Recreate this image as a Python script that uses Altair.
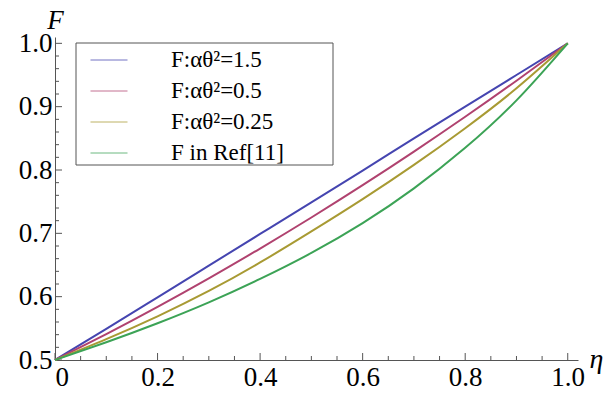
import altair as alt
import pandas as pd

eta = [0.0, 0.1, 0.2, 0.3, 0.4, 0.5, 0.6, 0.7, 0.8, 0.9, 1.0]
f_15 = [0.5, 0.549, 0.599, 0.649, 0.699, 0.749, 0.799, 0.850, 0.900, 0.950, 1.0]
f_05 = [0.5, 0.541, 0.584, 0.629, 0.676, 0.725, 0.776, 0.829, 0.884, 0.941, 1.0]
f_025 = [0.5, 0.533, 0.569, 0.609, 0.654, 0.703, 0.754, 0.808, 0.866, 0.929, 1.0]
f_ref = [0.5, 0.528, 0.558, 0.591, 0.628, 0.669, 0.716, 0.771, 0.835, 0.910, 1.0]

series = ["F:αθ²=1.5", "F:αθ²=0.5", "F:αθ²=0.25", "F in Ref[11]"]
colors = ["#4545b0", "#b0426f", "#a89a33", "#3ca356"]

y_major = [0.5, 0.6, 0.7, 0.8, 0.9, 1.0]
y_minor = [0.52, 0.54, 0.56, 0.58, 0.62, 0.64, 0.66, 0.68, 0.72, 0.74, 0.76, 0.78,
           0.82, 0.84, 0.86, 0.88, 0.92, 0.94, 0.96, 0.98]
x_major = [0.0, 0.2, 0.4, 0.6, 0.8, 1.0]
x_minor = [0.05, 0.1, 0.15, 0.25, 0.3, 0.35, 0.45, 0.5, 0.55, 0.65, 0.7, 0.75,
           0.85, 0.9, 0.95]

rows = []
for s, vals in zip(series, [f_15, f_05, f_025, f_ref]):
    for e, v in zip(eta, vals):
        rows.append({"eta": e, "F": v, "series": s})
df = pd.DataFrame(rows)

FONT = "Liberation Serif, Times New Roman, serif"
xs = alt.Scale(domain=[0, 1.02], nice=False)
ys = alt.Scale(domain=[0.5, 1.01], nice=False)

lines = alt.Chart(df).mark_line(strokeWidth=2, interpolate="natural").encode(
    x=alt.X("eta:Q", scale=xs,
            axis=alt.Axis(values=x_major,
                          labelExpr="datum.value == 0 ? '0' : format(datum.value, '.1f')",
                          ticks=False, grid=False, domainColor="#555555", domainWidth=1,
                          labelFont=FONT, labelFontSize=27, labelColor="black", labelPadding=4,
                          title="η", titleFont=FONT, titleFontStyle="italic", titleFontWeight="normal",
                          titleFontSize=28, titleColor="black", titleX=541, titleY=-1,
                          titleAlign="center", titleBaseline="middle")),
    y=alt.Y("F:Q", scale=ys,
            axis=alt.Axis(values=y_major, format=".1f", ticks=False, grid=False,
                          domainColor="#555555", domainWidth=1,
                          labelFont=FONT, labelFontSize=27, labelColor="black", labelPadding=3,
                          title="F", titleFont=FONT, titleFontStyle="italic", titleFontWeight="normal",
                          titleFontSize=27, titleColor="black", titleAngle=0, titleX=0, titleY=-17,
                          titleAlign="center", titleBaseline="middle")),
    color=alt.Color("series:N", scale=alt.Scale(domain=series, range=colors), sort=series,
                    legend=alt.Legend(title=None, orient="none", legendX=35, legendY=4,
                                      symbolType="stroke", symbolSize=1369, symbolStrokeWidth=1,
                                      symbolOpacity=0.75,
                                      labelFont=FONT, labelFontSize=23, labelColor="black",
                                      labelOffset=43, rowPadding=-9, padding=0,
                                      labelLimit=300)),
)

legend_box = alt.Chart(pd.DataFrame({"k": [0]})).mark_rect(
    fill="white", stroke="#555555", strokeWidth=1).encode(
    x=alt.value(21), x2=alt.value(278), y=alt.value(6), y2=alt.value(128))

ymaj = alt.Chart(pd.DataFrame({"v": y_major})).mark_rule(color="#555555").encode(
    y=alt.Y("v:Q", scale=ys), x=alt.value(0), x2=alt.value(7))
ymin = alt.Chart(pd.DataFrame({"v": y_minor})).mark_rule(color="#555555").encode(
    y=alt.Y("v:Q", scale=ys), x=alt.value(0), x2=alt.value(4))
xmaj = alt.Chart(pd.DataFrame({"v": x_major})).mark_rule(color="#555555").encode(
    x=alt.X("v:Q", scale=xs), y=alt.value(323), y2=alt.value(316))
xmin = alt.Chart(pd.DataFrame({"v": x_minor})).mark_rule(color="#555555").encode(
    x=alt.X("v:Q", scale=xs), y=alt.value(323), y2=alt.value(319))

chart = alt.layer(ymaj, ymin, xmaj, xmin, legend_box, lines).properties(
    width=523, height=323,
    autosize=alt.AutoSizeParams(type="none"),
    padding={"left": 47, "top": 29, "right": 30, "bottom": 30},
).configure(background="white").configure_view(stroke=None)

chart.save("out.html", embed_options={"renderer": "svg", "actions": False})
